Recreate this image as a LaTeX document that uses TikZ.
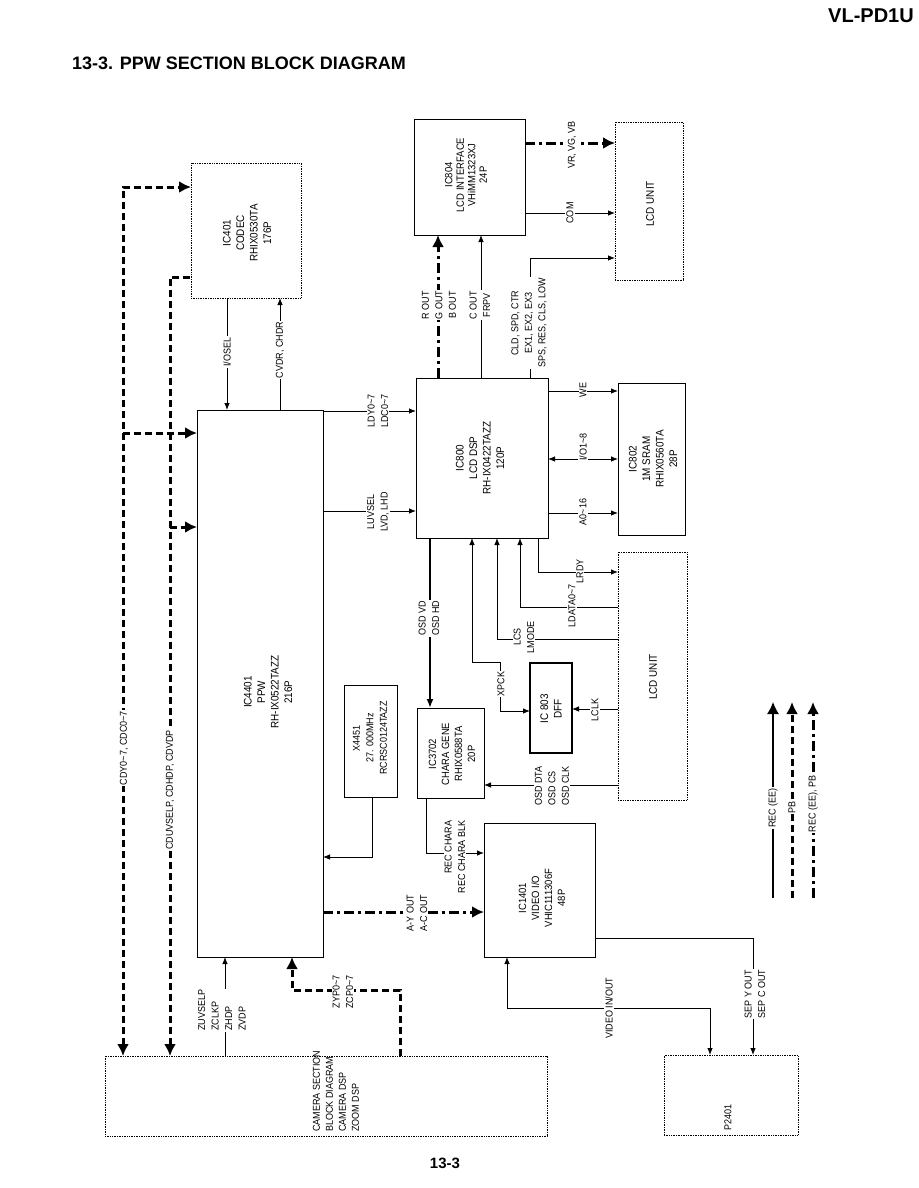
\documentclass[tikz,border=0pt]{standalone}
\usepackage{fontspec}
\setmainfont[FakeStretch=0.9]{Liberation Sans}
\newfontfamily\hfont{Liberation Sans}
\usetikzlibrary{arrows.meta}
\begin{document}
\begin{tikzpicture}[x=1pt,y=-1pt,
  box/.style={draw, line width=0.9pt, inner sep=0pt, outer sep=0pt, anchor=north west},
  dbox/.style={draw, densely dotted, line width=0.7pt, inner sep=0pt, outer sep=0pt, anchor=north west},
  btxt/.style={rotate=90, align=center, inner sep=0pt, font=\fontsize{11}{13.5}\selectfont},
  lbl/.style={rotate=90, fill=white, inner sep=1pt, align=center, font=\fontsize{10}{13.5}\selectfont},
  thinl/.style={line width=0.8pt},
  thickl/.style={line width=2pt},
  pb/.style={line width=3pt, dash pattern=on 7pt off 4pt},
  recpb/.style={line width=3pt, dash pattern=on 10pt off 4pt on 3pt off 4pt},
  sa/.style={-{Latex[length=7pt,width=5.5pt]}},
  sab/.style={{Latex[length=7pt,width=5.5pt]}-{Latex[length=7pt,width=5.5pt]}},
  ba/.style={-{Latex[length=12pt,width=12pt]}},
]
\fill[white] (0,0) rectangle (918,1188);
\useasboundingbox (0,0) rectangle (918,1188);

% titles
\node[anchor=east, inner sep=0pt, font=\hfont\fontsize{20}{20}\selectfont\bfseries] (hdr) at (914,16) {VL-PD1U};
\node[anchor=west, inner sep=0pt, font=\hfont\fontsize{18}{18}\selectfont\bfseries] (title) at (72,63) {13-3. PPW SECTION BLOCK DIAGRAM};
\node[inner sep=0pt, font=\hfont\fontsize{15}{15}\selectfont\bfseries] (pg) at (445,1163) {13-3};

% boxes
\node[box,  minimum width=111pt, minimum height=116pt] (ic804) at (414,119) {};
\node[dbox, minimum width=68pt,  minimum height=158pt] (lcd1)  at (615,122) {};
\node[dbox, minimum width=110pt, minimum height=135pt] (ic401) at (191,163) {};
\node[box,  minimum width=126pt, minimum height=547pt] (ic4401) at (197,410) {};
\node[box,  minimum width=132pt, minimum height=160pt] (ic800) at (416,378) {};
\node[box,  minimum width=67pt,  minimum height=152pt] (ic802) at (618,383) {};
\node[dbox, minimum width=69pt,  minimum height=248pt] (lcd2)  at (618,552) {};
\node[box,  minimum width=42pt,  minimum height=90pt, line width=1.1pt] (ic803) at (530,663) {};
\node[box,  minimum width=67pt,  minimum height=90pt] (ic3702) at (417,708) {};
\node[box,  minimum width=53pt,  minimum height=112pt] (x4451) at (344,685) {};
\node[box,  minimum width=111pt, minimum height=134pt] (ic1401) at (484,823) {};
\node[dbox, minimum width=442pt, minimum height=80pt] (cam) at (105,1056) {};
\node[dbox, minimum width=134pt, minimum height=80pt] (p2401) at (664,1055) {};

% box texts
\node[btxt, font=\fontsize{10.5}{11.5}\selectfont] (ic804t) at (466,175) {IC804\\LCD INTERFACE\\VHiMM1323XJ\\24P};
\node[btxt] (lcd1t) at (650,204) {LCD UNIT};
\node[btxt] (ic401t) at (247,233) {IC401\\CODEC\\RHIX0530TA\\176P};
\node[btxt] (ic4401t) at (268,692) {IC4401\\PPW\\RH-IX0522TAZZ\\216P};
\node[btxt] (ic800t) at (480,458) {IC800\\LCD DSP\\RH-IX0422TAZZ\\120P};
\node[btxt] (ic802t) at (653,459) {IC802\\1M SRAM\\RHIX0560TA\\28P};
\node[btxt] (lcd2t) at (653,677) {LCD UNIT};
\node[btxt] (ic803t) at (551,709) {IC 803\\DFF};
\node[btxt, font=\fontsize{10.5}{13}\selectfont] (ic3702t) at (452,754) {IC3702\\CHARA GENE\\RHIX0588TA\\20P};
\node[btxt, font=\fontsize{10}{13.5}\selectfont] (x4451t) at (370,738) {X4451\\27. 000MHz\\RCRSC0124TAZZ};
\node[btxt, font=\fontsize{10.5}{13}\selectfont] (ic1401t) at (542,898) {IC1401\\VIDEO I/O\\VHIC111306F\\48P};
\node[btxt, anchor=west, align=left, font=\fontsize{10}{13}\selectfont] (camt) at (336,1132) {CAMERA SECTION\\BLOCK DIAGRAM\\CAMERA DSP\\ZOOM DSP};
\node[btxt, font=\fontsize{10}{12}\selectfont] (p2401t) at (728,1117) {P2401};

% helper coordinates
\coordinate (xb) at (500,662);
\coordinate (vb) at (710,1008);
\coordinate (zb) at (292,990);
\coordinate (cdyj) at (123,433);
\coordinate (cduj) at (170,527);

% connectors
\draw[recpb, ba] (ic804.east |- 0,143) -- (lcd1.west |- 0,143);
\draw[thinl, sa] (ic804.east |- 0,213) -- (lcd1.west |- 0,213);
\draw[thinl, sa] (ic800.north -| 530,0) |- (lcd1.west |- 0,258);
\draw[recpb, ba] (ic800.north -| 438,0) -- (ic804.south -| 438,0);
\draw[thinl, sa] (ic800.north -| 481,0) -- (ic804.south -| 481,0);
\draw[thinl, sa] (ic401.south -| 227,0) -- (ic4401.north -| 227,0);
\draw[thinl, sa] (ic4401.north -| 280,0) -- (ic401.south -| 280,0);
\draw[thinl, sa] (ic4401.east |- 0,411) -- (ic800.west |- 0,411);
\draw[thinl, sa] (ic4401.east |- 0,511) -- (ic800.west |- 0,511);
\draw[thinl, sa] (ic800.east |- 0,391) -- (ic802.west |- 0,391);
\draw[thinl, sab] (ic800.east |- 0,459) -- (ic802.west |- 0,459);
\draw[thinl, sa] (ic800.east |- 0,513) -- (ic802.west |- 0,513);
\draw[thickl, -{Latex[length=9pt,width=7pt]}] (ic800.south -| 430,0) -- (ic3702.north -| 430,0);
\draw[thinl, sab] (ic800.south -| 472,0) |- (xb) |- (ic803.west |- 0,711);
\draw[thinl, sa] (lcd2.west |- 0,639) -| (ic800.south -| 497,0);
\draw[thinl, sa] (lcd2.west |- 0,607) -| (ic800.south -| 520,0);
\draw[thinl, sa] (ic800.south -| 538,0) |- (lcd2.west |- 0,572);
\draw[thinl, sa] (lcd2.west |- 0,709) -- (ic803.east |- 0,709);
\draw[thinl, sa] (lcd2.west |- 0,785) -- (ic3702.east |- 0,785);
\draw[thinl, sa] (x4451.south -| 372,0) |- (ic4401.east |- 0,857);
\draw[thinl, sa] (ic3702.south -| 426,0) |- (ic1401.west |- 0,853);
\draw[recpb, ba] (ic4401.east |- 0,912) -- (ic1401.west |- 0,912);
\draw[thinl, sa] (ic1401.east |- 0,938) -| (p2401.north -| 753,0);
\draw[thinl, sab] (ic1401.south -| 507,0) |- (vb) -- (p2401.north -| vb);
\draw[thinl, sa] (cam.north -| 225,0) -- (ic4401.south -| 225,0);
\draw[pb, ba] (cam.north -| 400,0) |- (zb) -- (ic4401.south -| zb);
\draw[pb, {Latex[length=12pt,width=12pt]}-{Latex[length=12pt,width=12pt]}] (cam.north -| 123,0) |- (ic401.west |- 0,187);
\draw[pb, ba] (cdyj) -- (ic4401.west |- cdyj);
\draw[pb, {Latex[length=12pt,width=12pt]}-] (cam.north -| 170,0) |- (ic401.west |- 0,277);
\draw[pb, ba] (cduj) -- (ic4401.west |- cduj);

% legend
\coordinate (l1b) at (773,898); \coordinate (l1t) at (773,702);
\coordinate (l2b) at (792,898); \coordinate (l2t) at (792,702);
\coordinate (l3b) at (813,898); \coordinate (l3t) at (813,702);
\draw[line width=1.3pt, ba] (l1b) -- (l1t);
\draw[pb, ba] (l2b) -- (l2t);
\draw[recpb, ba] (l3b) -- (l3t);

% labels
\node[lbl] (lvr) at (572,145) {VR, VG, VB};
\node[lbl] (lcom) at (570,213) {COM};
\node[lbl] (lcld) at (529,323) {CLD, SPD, CTR\\EX1, EX2, EX3\\SPS, RES, CLS, LOW};
\node[lbl] (lrgb) at (439,305) {R OUT\\G OUT\\B OUT};
\node[lbl] (lcout) at (480,305) {C OUT\\FRPV};
\node[lbl] (liosel) at (227,352) {I/OSEL};
\node[lbl] (lcvdr) at (280,350) {CVDR, CHDR};
\node[lbl] (lldy) at (378,411) {LDY0\textasciitilde7\\LDC0\textasciitilde7};
\node[lbl] (lluv) at (378,512) {LUVSEL\\LVD, LHD};
\node[lbl] (lwe) at (583,390) {WE};
\node[lbl] (lio) at (583,447) {I/O1\textasciitilde8};
\node[lbl] (la0) at (583,512) {A0\textasciitilde16};
\node[lbl] (losdv) at (429,618) {OSD VD\\OSD HD};
\node[lbl] (lxpck) at (501,684) {XPCK};
\node[lbl] (llcs) at (524,637) {LCS\\LMODE};
\node[lbl] (lldata) at (572,606) {LDATA0\textasciitilde7};
\node[lbl] (llrdy) at (580,571) {LRDY};
\node[lbl] (llclk) at (595,710) {LCLK};
\node[lbl, align=left] (losdd) at (552,786) {OSD DTA\\OSD CS\\OSD CLK};
\node[lbl, align=right] (lrecc) at (455,857) {REC CHARA\\REC CHARA BLK};
\node[lbl] (lay) at (417,913) {A-Y OUT\\A-C OUT};
\node[lbl] (lsep) at (755,994) {SEP Y OUT\\SEP C OUT};
\node[lbl] (lvid) at (609,1008) {VIDEO IN/OUT};
\node[lbl, anchor=west, align=left] (lzuv) at (222,1032) {ZUVSELP\\ZCLKP\\ZHDP\\ZVDP};
\node[lbl] (lzyp) at (343,992) {ZYP0\textasciitilde7\\ZCP0\textasciitilde7};
\node[lbl] (lcdy) at (124,748) {CDY0\textasciitilde7, CDC0\textasciitilde7};
\node[lbl] (lcduv) at (170,790) {CDUVSELP, CDHDP, CDVDP};
\node[lbl] (lg1) at (773,808) {REC (EE)};
\node[lbl] (lg2) at (792,807) {PB};
\node[lbl] (lg3) at (813,804) {REC (EE), PB};
\end{tikzpicture}
\end{document}
